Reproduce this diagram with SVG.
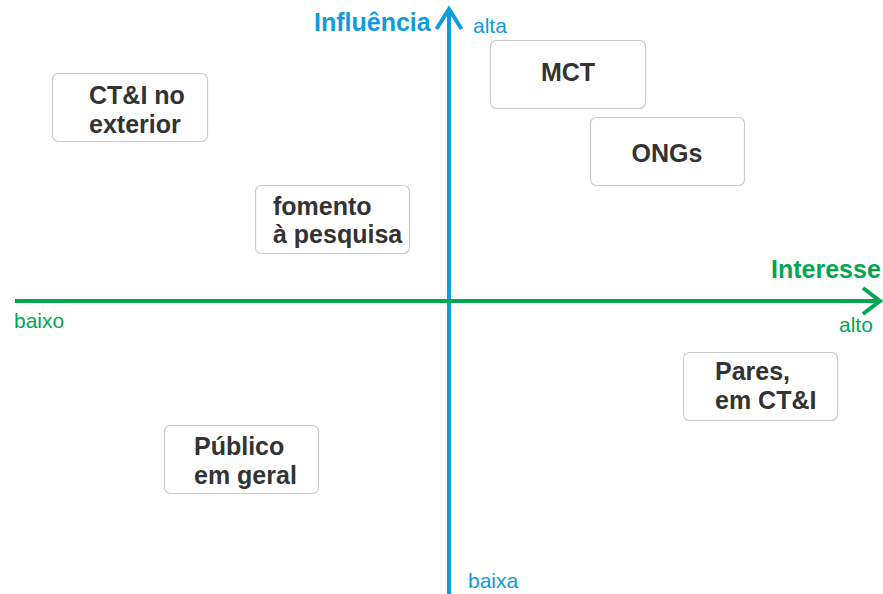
<svg xmlns="http://www.w3.org/2000/svg" width="883" height="594" viewBox="0 0 883 594">
<style>
.box{fill:#fff;stroke:#cccccc;stroke-width:1.2}
.nt{font-family:"Liberation Sans",Arial,sans-serif;font-weight:bold;font-size:25px;fill:#333333}
.ax{font-family:"Liberation Sans",Arial,sans-serif;font-weight:bold;font-size:25px}
.sm{font-family:"Liberation Sans",Arial,sans-serif;font-size:21px}
.blue{fill:#0f9bdc}
.green{fill:#00a650}
</style>
<rect width="883" height="594" fill="#ffffff"/>
<g id="axes">
<line x1="449" y1="594" x2="449" y2="10" stroke="#0f9bdc" stroke-width="4"/>
<polyline points="436.5,29 449,9 461.5,29" fill="none" stroke="#0f9bdc" stroke-width="4" stroke-linejoin="miter"/>
<line x1="15" y1="301" x2="879" y2="301" stroke="#00a650" stroke-width="4"/>
<polyline points="863,288 880,301 863,314" fill="none" stroke="#00a650" stroke-width="4"/>
<text class="ax blue" x="314" y="31">Influência</text>
<text class="sm blue" x="473" y="33">alta</text>
<text class="sm blue" x="468" y="588">baixa</text>
<text class="ax green" x="771" y="278">Interesse</text>
<text class="sm green" x="839" y="332">alto</text>
<text class="sm green" x="14" y="328">baixo</text>
</g>
<g id="ctei-exterior">
<rect class="box" x="52.5" y="73.5" width="155" height="68" rx="6"/>
<text class="nt" x="89" y="104">CT&amp;I no</text>
<text class="nt" x="89" y="133">exterior</text>
</g>
<g id="fomento">
<rect class="box" x="255.5" y="185.5" width="154" height="68" rx="6"/>
<text class="nt" x="273" y="215">fomento</text>
<text class="nt" x="273" y="243">à pesquisa</text>
</g>
<g id="mct">
<rect class="box" x="490.5" y="40.5" width="155" height="68" rx="6"/>
<text class="nt" x="568" y="81" text-anchor="middle">MCT</text>
</g>
<g id="ongs">
<rect class="box" x="590.5" y="117.5" width="154" height="68" rx="6"/>
<text class="nt" x="667" y="162" text-anchor="middle">ONGs</text>
</g>
<g id="pares">
<rect class="box" x="683.5" y="352.5" width="154" height="68" rx="6"/>
<text class="nt" x="715" y="380">Pares,</text>
<text class="nt" x="715" y="409">em CT&amp;I</text>
</g>
<g id="publico">
<rect class="box" x="164.5" y="425.5" width="154" height="68" rx="6"/>
<text class="nt" x="194" y="455">Público</text>
<text class="nt" x="194" y="484">em geral</text>
</g>
</svg>
